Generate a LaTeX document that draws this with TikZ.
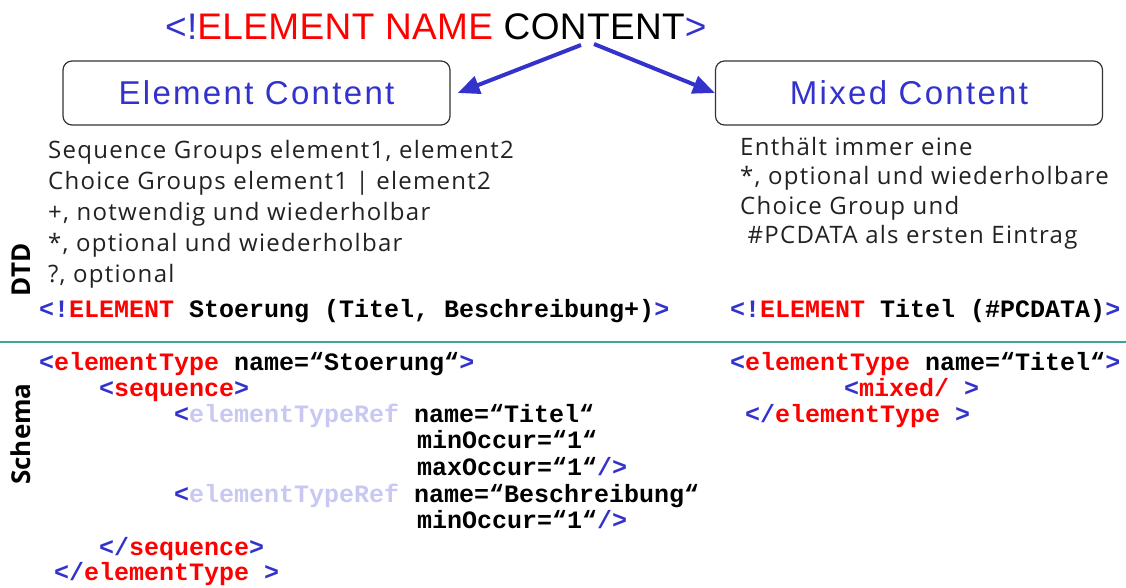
\documentclass[tikz,border=0pt]{standalone}
\usepackage{fontspec}
\setmainfont{Open Sans}
\newfontfamily\headfont{Liberation Sans}
\newfontfamily\codefont{Liberation Mono}
\newfontfamily\bodyfont[LetterSpace=5.3]{Open Sans}
\usetikzlibrary{arrows.meta}
\definecolor{tagblue}{HTML}{3333CC}
\definecolor{tagred}{HTML}{FF0000}
\definecolor{reflila}{HTML}{C8C8F2}
\definecolor{septeal}{HTML}{3DA39B}
\definecolor{bodygray}{HTML}{222222}
\newcommand{\tagB}[1]{\textcolor{tagblue}{#1}}
\newcommand{\tagR}[1]{\textcolor{tagred}{#1}}
\newcommand{\tagL}[1]{\textcolor{reflila}{#1}}
\tikzset{
  ctbox/.style={draw=black!80, line width=1.2pt, rounded corners=9pt,
    minimum width=387pt, minimum height=64pt, text=tagblue,
    font=\headfont\addfontfeatures{LetterSpace=7}\fontsize{33}{36}\selectfont},
  code/.style={anchor=base west, inner sep=0pt,
    font=\codefont\bfseries\fontsize{25}{26}\selectfont},
  body/.style={anchor=base west, inner sep=0pt, align=left, text=bodygray,
    font=\bodyfont\fontsize{24}{31}\selectfont},
  side/.style={rotate=90, inner sep=0pt, font=\bfseries\fontsize{26}{27}\selectfont},
  pick/.style={draw=tagblue, line width=4pt, -{Triangle[length=22pt,width=18pt]}}
}
\begin{document}
\begin{tikzpicture}[x=1pt,y=-1pt]
  \useasboundingbox (0,0) rectangle (1126,588);
  % declaration and the two content kinds
  \node[anchor=base west, inner sep=0pt,
    font=\headfont\addfontfeatures{LetterSpace=1}\fontsize{37}{40}\selectfont] (decl) at (165,40)
    {\tagB{<!}\tagR{ELEMENT NAME} CONTENT\tagB{>}};
  \coordinate (forkL) at (581,45);
  \coordinate (forkR) at (594,44);
  \node[ctbox] (elem) at (256.5,93) {Element Content};
  \node[ctbox] (mixed) at (909,93) {Mixed Content};
  \draw[pick] (forkL) -- ([xshift=7pt]elem.east);
  \draw[pick] (forkR) -- (mixed.west);
  % notes (base = last line)
  \node[body] (seqnote) at (48,282) {Sequence Groups element1, element2\\
    Choice Groups element1 | element2\\
    +, notwendig und wiederholbar\\
    *, optional und wiederholbar\\
    ?, optional};
  \node[body, font=\bodyfont\fontsize{24}{29.5}\selectfont] (mixnote) at (740,243.5) {Enthält immer eine\\
    *, optional und wiederholbare\\
    Choice Group und\\
    \ \#PCDATA als ersten Eintrag};
  % DTD
  \node[side] (dtd) at (21,270) {DTD};
  \node[code] (dtdL) at (39,317) {\tagB{<!}\tagR{ELEMENT} Stoerung (Titel, Beschreibung+)\tagB{>}};
  \node[code] (dtdR) at (730,317) {\tagB{<!}\tagR{ELEMENT} Titel (\#PCDATA)\tagB{>}};
  \draw[septeal, line width=2.5pt] (0,342) -- (1126,342);
  % Schema
  \node[side] (schema) at (21,434) {Schema};
  \node[code] (k0) at (39,370) {\tagB{<}\tagR{elementType} name=“Stoerung“\tagB{>}};
  \node[code] (k1) at (99,396) {\tagB{<}\tagR{sequence}\tagB{>}};
  \node[code] (k2) at (174,422) {\tagB{<}\tagL{elementTypeRef} name=“Titel“};
  \node[code] (k3) at (417,448) {minOccur=“1“};
  \node[code] (k4) at (417,475) {maxOccur=“1“\tagB{/>}};
  \node[code] (k5) at (174,502) {\tagB{<}\tagL{elementTypeRef} name=“Beschreibung“};
  \node[code] (k6) at (417,528) {minOccur=“1“\tagB{/>}};
  \node[code] (k7) at (99,555) {\tagB{</}\tagR{sequence}\tagB{>}};
  \node[code] (k8) at (54,580) {\tagB{</}\tagR{elementType} \tagB{>}};
  \node[code] (m0) at (730,370) {\tagB{<}\tagR{elementType} name=“Titel“\tagB{>}};
  \node[code] (m1) at (844,396) {\tagB{<}\tagR{mixed/} \tagB{>}};
  \node[code] (m2) at (745,422) {\tagB{</}\tagR{elementType} \tagB{>}};
\end{tikzpicture}
\end{document}
